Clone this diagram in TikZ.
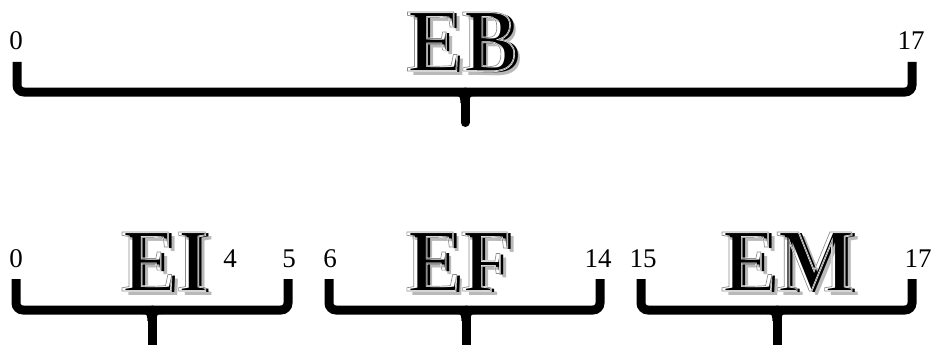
\documentclass[tikz,border=0pt]{standalone}
\usepackage{fontspec}
\setmainfont{Liberation Serif}
\newcommand\strokedtext[3]{\special{pdf:literal direct 1 Tr #1 w #2 RG}#3\special{pdf:literal direct 0 Tr 0 0 0 RG}}
\newcommand\engrave[1]{%
  \rlap{\kern3pt\raisebox{-3pt}{\color{gray!55}#1}}%
  \rlap{#1}%
  \rlap{\kern-4pt\raisebox{1pt}{\strokedtext{1.6}{1 1 1}{#1}}}%
  \rlap{\kern-4pt\raisebox{1pt}{\strokedtext{0.7}{0.55 0.55 0.55}{#1}}}%
  \phantom{#1}}
\begin{document}
\begin{tikzpicture}[x=1pt,y=-1pt,
  bracepath/.style={line width=9pt, rounded corners=7pt},
  stemline/.style={line width=9pt, line cap=round},
  num/.style={font=\fontsize{27}{27}\selectfont, anchor=base, inner sep=0pt},
  big/.style={font=\fontsize{90}{90}\selectfont\bfseries, anchor=base, inner sep=0pt, xscale=0.92}
]
\useasboundingbox (0,0) rectangle (934,345);

% ---------- top brace ----------
\coordinate (tL) at (17,62);
\coordinate (tR) at (912,62);
\coordinate (tS) at (465,92);
\draw[bracepath] (tL) |- (tS) -| (tR);
\draw[stemline] (tS) -- ++(0,30.5) coordinate (tE);
\fill (455,96) .. controls (460,96) .. (460.5,103) -- (469.5,103) .. controls (470,96) .. (475,96) -- cycle;

\node[num] (t0) at (16,50) {0};
\node[num] (t17) at (911,50) {17};
\node[big] (EB) at (465,72) {\engrave{EB}};

% ---------- bottom braces ----------
\foreach \l/\r/\s/\n in {16/288/152/a, 329/600/466/b, 641/912/777/c}{
  \coordinate (\n L) at (\l,279);
  \coordinate (\n R) at (\r,279);
  \coordinate (\n S) at (\s,310);
  \draw[bracepath] (\n L) |- (\n S) -| (\n R);
  \draw[stemline] (\n S) -- ++(0,45) coordinate (\n E);
  \fill (\s-10,314) .. controls (\s-5,314) .. (\s-4.5,321) -- (\s+4.5,321) .. controls (\s+5,314) .. (\s+10,314) -- cycle;
}

\node[num] (b0) at (16,267) {0};
\node[num] (b4) at (230,267) {4};
\node[num] (b5) at (289,267) {5};
\node[num] (b6) at (330,267) {6};
\node[num] (b14) at (598,267) {14};
\node[num] (b15) at (643,267) {15};
\node[num] (b17) at (918,267) {17};

\node[big] (EI) at (168,292) {\engrave{EI}};
\node[big] (EF) at (462,292) {\engrave{EF}};
\node[big] (EM) at (791,292) {\engrave{EM}};
\end{tikzpicture}
\end{document}
